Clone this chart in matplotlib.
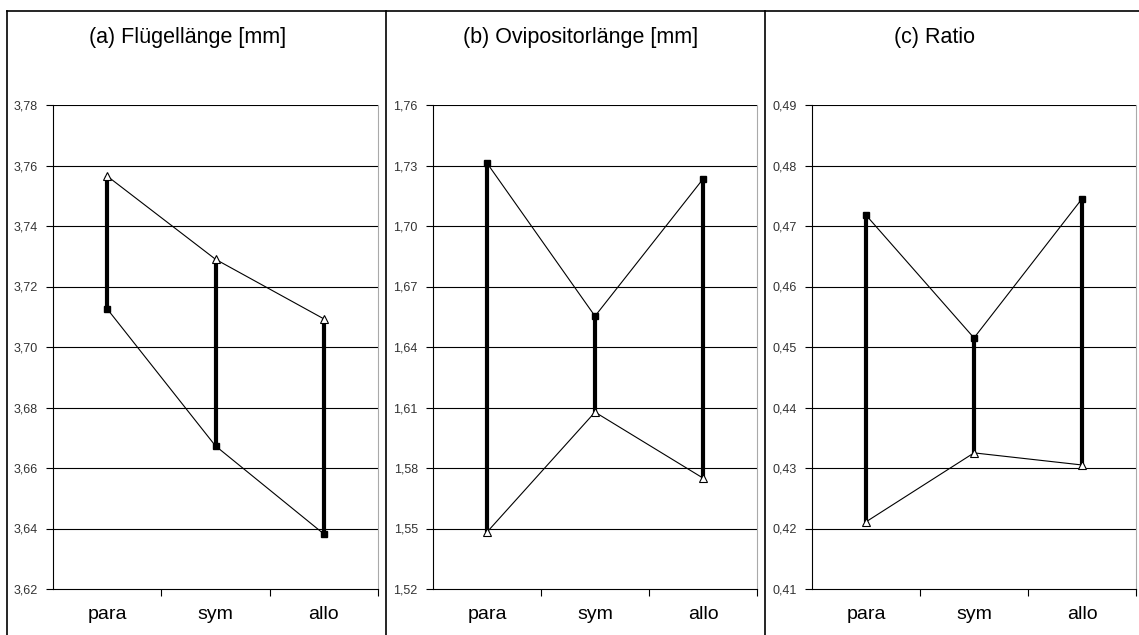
import numpy as np
import matplotlib.pyplot as plt
from matplotlib.lines import Line2D
from matplotlib.ticker import FixedLocator, FuncFormatter

plt.rcParams['font.family'] = ['Liberation Sans', 'DejaVu Sans']

categories = ['para', 'sym', 'allo']

titles = ['(a) Flügellänge [mm]', '(b) Ovipositorlänge [mm]', '(c) Ratio']

# upper end (triangles) and lower end (squares) of each range
fluegel_tri = [3.7565, 3.7290, 3.7093]
fluegel_sq = [3.7126, 3.6673, 3.6382]

ovi_tri = [1.5482, 1.6077, 1.5750]
ovi_sq = [1.7312, 1.6553, 1.7233]

ratio_tri = [0.4211, 0.4325, 0.4305]
ratio_sq = [0.4718, 0.4515, 0.4745]

y_ticks = [
    [3.62, 3.64, 3.66, 3.68, 3.70, 3.72, 3.74, 3.76, 3.78],
    [1.52, 1.55, 1.58, 1.61, 1.64, 1.67, 1.70, 1.73, 1.76],
    [0.41, 0.42, 0.43, 0.44, 0.45, 0.46, 0.47, 0.48, 0.49],
]

series = [(fluegel_tri, fluegel_sq), (ovi_tri, ovi_sq), (ratio_tri, ratio_sq)]

W, H = 1139, 635
fig = plt.figure(figsize=(W / 100, H / 100), dpi=100)

ax_left = [53, 433, 812]
ax_right = [378, 757, 1136]
ax_top, ax_bottom = 105, 589
title_x = [188, 581, 935]

x = np.arange(len(categories))

for i in range(3):
    ax = fig.add_axes([ax_left[i] / W, 1 - ax_bottom / H,
                       (ax_right[i] - ax_left[i]) / W, (ax_bottom - ax_top) / H])
    tri, sq = series[i]
    ticks = y_ticks[i]

    for yv in ticks[1:]:
        ax.axhline(yv, color='black', lw=0.8, zorder=1)

    ax.vlines(x, tri, sq, color='black', lw=3, zorder=2)
    ax.plot(x, tri, color='black', lw=0.8, marker='^', ms=6,
            mfc='white', mec='black', mew=0.8, zorder=3)
    ax.plot(x, sq, color='black', lw=0.8, marker='s', ms=5,
            mfc='black', mec='black', zorder=3)

    ax.set_xlim(-0.5, 2.5)
    ax.set_ylim(ticks[0], ticks[-1])
    ax.yaxis.set_major_locator(FixedLocator(ticks))
    ax.yaxis.set_major_formatter(FuncFormatter(lambda v, p: f'{v:.2f}'.replace('.', ',')))
    ax.tick_params(axis='y', direction='out', length=5, width=0.8, pad=6,
                   labelsize=9)
    for lab in ax.get_yticklabels():
        lab.set_family(['Liberation Sans Narrow', 'Liberation Sans'])
        lab.set_color('#333333')

    ax.set_xticks(x)
    ax.set_xticklabels(categories)
    ax.xaxis.set_minor_locator(FixedLocator([0.5, 1.5, 2.5]))
    ax.tick_params(axis='x', which='major', length=0, pad=12, labelsize=14)
    ax.tick_params(axis='x', which='minor', direction='out', length=5, width=0.8)

    ax.spines['top'].set_visible(False)
    ax.spines['right'].set_color('#aaaaaa')
    ax.spines['left'].set_linewidth(0.8)
    ax.spines['bottom'].set_linewidth(0.8)

    fig.text(title_x[i] / W, 1 - 37 / H, titles[i], ha='center', va='center',
             fontsize=15.5)

# panel frames
frame = dict(color='black', lw=1.2, transform=fig.transFigure)
fig.add_artist(Line2D([7 / W, 1], [1 - 11 / H, 1 - 11 / H], **frame))
for px in [7, 386, 765]:
    fig.add_artist(Line2D([px / W, px / W], [0, 1 - 11 / H], **frame))

fig.savefig('out.png', dpi=100)
